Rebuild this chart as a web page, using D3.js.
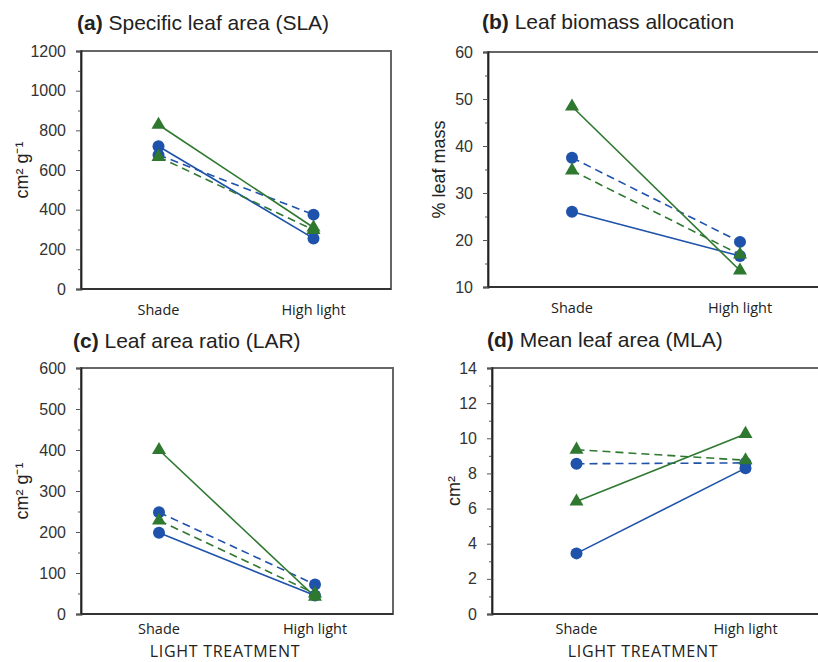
<!DOCTYPE html>
<html>
<head>
<meta charset="utf-8">
<script src="https://cdn.jsdelivr.net/npm/d3@7"></script>
<style>
  body { margin: 0; background: #fff; }
  text { font-family: "Liberation Sans", Arial, sans-serif; fill: #222; }
</style>
</head>
<body>
<script>
// data
var categories = ['Shade', 'High light'];
var seriesKeys = ['blueSolid', 'blueDashed', 'greenSolid', 'greenDashed'];

// [shade, high light] per series, same order as seriesKeys
var slaValues = [[720, 255], [676, 375], [828, 310], [666, 298]];
var lbaValues = [[26, 16.6], [37.5, 19.6], [48.4, 13.5], [34.8, 16.9]];
var larValues = [[198, 45], [248, 72], [400, 42], [228, 50]];
var mlaValues = [[3.45, 8.3], [8.55, 8.6], [6.4, 10.25], [9.35, 8.75]];

var slaTicks = [0, 200, 400, 600, 800, 1000, 1200];
var lbaTicks = [10, 20, 30, 40, 50, 60];
var larTicks = [0, 100, 200, 300, 400, 500, 600];
var mlaTicks = [0, 2, 4, 6, 8, 10, 12, 14];

var blue = '#1f52aa', green = '#2f7830';
var seriesColor = { blueSolid: blue, blueDashed: blue, greenSolid: green, greenDashed: green };
var seriesDash = { blueSolid: null, blueDashed: '8,5', greenSolid: null, greenDashed: '8,5' };
var seriesShape = { blueSolid: 'circle', blueDashed: 'circle', greenSolid: 'triangle', greenDashed: 'triangle' };

var svg = d3.select('body').append('svg')
    .attr('width', 818)
    .attr('height', 662);

var panels = [
  { tag: '(a)', title: 'Specific leaf area (SLA)', values: slaValues, ticks: slaTicks, ylabel: 'cm² g⁻¹',
    x0: 81, x1: 391, y0: 51, y1: 289, tx: 77, ty: 30, lx: 28, xlabel: false },
  { tag: '(b)', title: 'Leaf biomass allocation', values: lbaValues, ticks: lbaTicks, ylabel: '% leaf mass',
    x0: 488, x1: 824, y0: 52, y1: 287, tx: 482, ty: 29, lx: 445, xlabel: false },
  { tag: '(c)', title: 'Leaf area ratio (LAR)', values: larValues, ticks: larTicks, ylabel: 'cm² g⁻¹',
    x0: 81, x1: 393, y0: 368, y1: 614, tx: 73, ty: 348, lx: 28, xlabel: true },
  { tag: '(d)', title: 'Mean leaf area (MLA)', values: mlaValues, ticks: mlaTicks, ylabel: 'cm²',
    x0: 492, x1: 830, y0: 368, y1: 614, tx: 487, ty: 347, lx: 460, xlabel: true }
];

panels.forEach(function(p) {
  var g = svg.append('g');
  var x = d3.scalePoint().domain(categories).range([p.x0, p.x1]).padding(0.5);
  var y = d3.scaleLinear().domain(d3.extent(p.ticks)).range([p.y1, p.y0]);

  // minor ticks halfway between the labelled ones
  var step = p.ticks[1] - p.ticks[0];
  var minor = p.ticks.slice(0, -1).map(function(t) { return t + step / 2; });

  g.append('rect')
    .attr('x', p.x0).attr('y', p.y0)
    .attr('width', p.x1 - p.x0).attr('height', p.y1 - p.y0)
    .attr('fill', 'none').attr('stroke', '#666').attr('stroke-width', 2);

  var minorAxis = g.append('g')
    .attr('transform', 'translate(' + p.x0 + ',0)')
    .call(d3.axisLeft(y).tickValues(minor).tickSize(3).tickFormat(''));
  minorAxis.select('.domain').remove();
  minorAxis.selectAll('line').attr('stroke', '#555');

  var yAxis = g.append('g')
    .attr('transform', 'translate(' + p.x0 + ',0)')
    .call(d3.axisLeft(y).tickValues(p.ticks).tickSize(5).tickPadding(10).tickFormat(d3.format('d')));
  yAxis.select('.domain').attr('stroke', '#222').attr('stroke-width', 1.8);
  yAxis.selectAll('line').attr('stroke', '#555');
  yAxis.selectAll('text').style('font-size', '16px').style('fill', '#333')
    .style('font-family', '"Liberation Sans", Arial, sans-serif');

  // bottom edge
  g.append('line')
    .attr('x1', p.x0).attr('x2', p.x1).attr('y1', p.y1).attr('y2', p.y1)
    .attr('stroke', '#333').attr('stroke-width', 2);

  // title
  var t = g.append('text').attr('x', p.tx).attr('y', p.ty).style('font-size', '21px');
  t.append('tspan').attr('font-weight', 'bold').text(p.tag);
  t.append('tspan').text(' ' + p.title);

  // y label
  g.append('text')
    .attr('transform', 'translate(' + p.lx + ',' + ((p.y0 + p.y1) / 2) + ') rotate(-90)')
    .attr('text-anchor', 'middle')
    .style('font-size', '18px')
    .text(p.ylabel);

  // category labels
  g.selectAll('.cat').data(categories).enter().append('text')
    .attr('x', function(d) { return x(d); })
    .attr('y', p.y1 + (p.xlabel ? 20 : 26))
    .attr('text-anchor', 'middle')
    .style('font-size', '14.5px')
    .style('font-family', '"Open Sans", sans-serif')
    .text(function(d) { return d; });

  if (p.xlabel) {
    g.append('text')
      .attr('x', (p.x0 + Math.min(p.x1, 818)) / 2 - 12)
      .attr('y', 657)
      .attr('text-anchor', 'middle')
      .style('font-size', '16px')
      .style('letter-spacing', '0.7px')
      .style('font-family', '"Open Sans", sans-serif')
      .text('LIGHT TREATMENT');
  }

  var line = d3.line()
    .x(function(d, i) { return x(categories[i]); })
    .y(function(d) { return y(d); });

  seriesKeys.forEach(function(k, si) {
    g.append('path')
      .attr('d', line(p.values[si]))
      .attr('fill', 'none')
      .attr('stroke', seriesColor[k])
      .attr('stroke-width', 1.6)
      .attr('stroke-dasharray', seriesDash[k]);
  });

  seriesKeys.forEach(function(k, si) {
    p.values[si].forEach(function(v, i) {
      var cx = x(categories[i]), cy = y(v);
      if (seriesShape[k] === 'circle') {
        g.append('circle').attr('cx', cx).attr('cy', cy).attr('r', 6)
          .attr('fill', seriesColor[k]);
      } else {
        g.append('path')
          .attr('d', d3.symbol().type(d3.symbolTriangle).size(85)())
          .attr('transform', 'translate(' + cx + ',' + cy + ')')
          .attr('fill', seriesColor[k]);
      }
    });
  });
});
</script>
</body>
</html>
